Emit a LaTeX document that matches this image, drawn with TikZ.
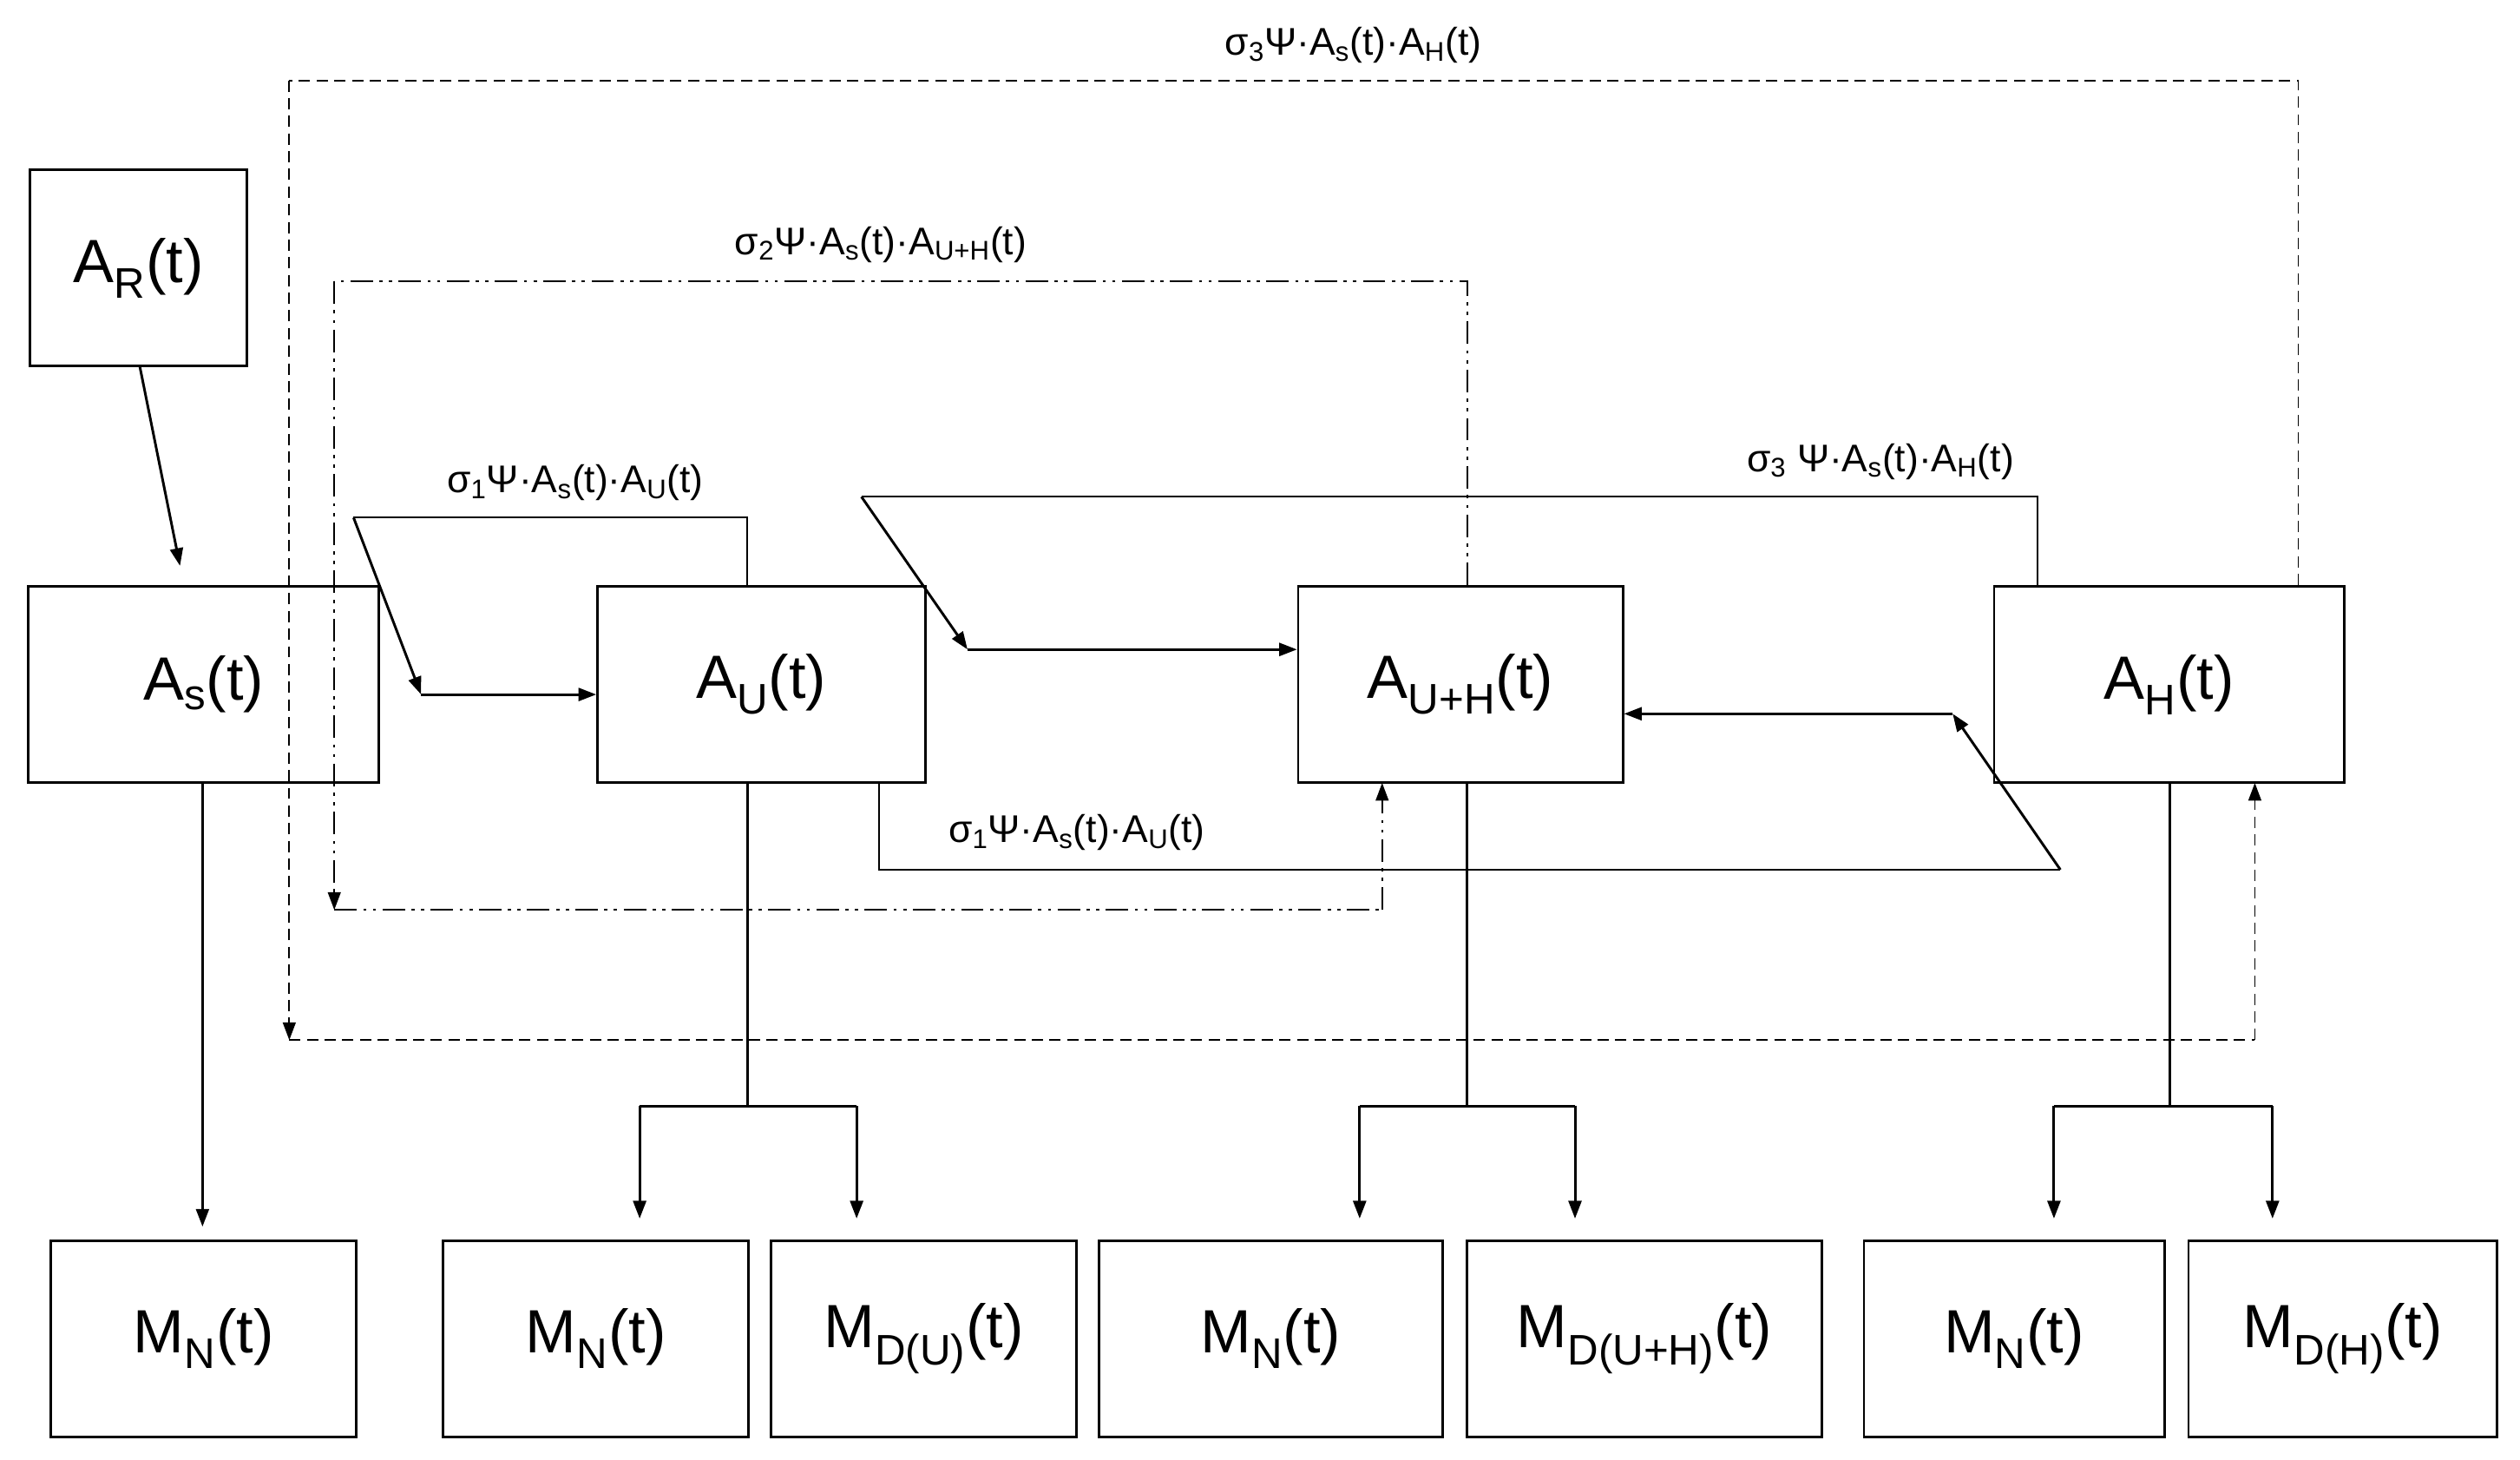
\documentclass[tikz,border=0pt]{standalone}
\usepackage{fontspec}
\setmainfont{Liberation Sans}
\usetikzlibrary{arrows.meta}
\begin{document}
\begin{tikzpicture}[x=1pt,y=-1pt,
  box/.style={draw,line width=1.5pt,anchor=north west,inner sep=0pt,font=\fontsize{38}{44}\selectfont},
  ln/.style={line width=1.6pt},
  ar/.style={ln,-{Triangle[length=11pt,width=8pt]}},
  lab/.style={font=\fontsize{24}{28}\selectfont},
  dd/.style={dash pattern=on 14pt off 4pt on 2pt off 4pt on 2pt off 4pt},
  ds/.style={dash pattern=on 7pt off 4pt}]
\useasboundingbox (0,0) rectangle (1568,908);
\newcommand\bx[5]{\node[box,minimum width=#3-#1,minimum height=#4-#2] (#5) at (#1,#2) {};}
\bx{18}{105}{153}{227}{AR} \node[box,anchor=center,draw=none] at (AR.center) {A\textsubscript{R}(t)};
\bx{17}{364}{235}{486}{As} \node[box,anchor=center,draw=none] at (As.center) {A\textsubscript{s}(t)};
\bx{371}{364}{575}{486}{AU} \node[box,anchor=center,draw=none] at (AU.center) {A\textsubscript{U}(t)};
\bx{807}{364}{1009}{486}{AUH} \node[box,anchor=center,draw=none] at (AUH.center) {A\textsubscript{U+H}(t)};
\bx{1240}{364}{1458}{486}{AH} \node[box,anchor=center,draw=none] at (AH.center) {A\textsubscript{H}(t)};
\bx{31}{771}{221}{893}{M1} \node[box,anchor=center,draw=none] at (M1.center) {M\textsubscript{N}(t)};
\bx{275}{771}{465}{893}{M2} \node[box,anchor=center,draw=none] at (M2.center) {M\textsubscript{N}(t)};
\bx{479}{771}{669}{893}{M3} \node[box,anchor=center,draw=none] at (M3.center) {M\textsubscript{D(U)}(t)};
\bx{683}{771}{897}{893}{M4} \node[box,anchor=center,draw=none] at (M4.center) {M\textsubscript{N}(t)};
\bx{912}{771}{1133}{893}{M5} \node[box,anchor=center,draw=none] at (M5.center) {M\textsubscript{D(U+H)}(t)};
\bx{1159}{771}{1346}{893}{M6} \node[box,anchor=center,draw=none] at (M6.center) {M\textsubscript{N}(t)};
\bx{1361}{771}{1553}{893}{M7} \node[box,anchor=center,draw=none] at (M7.center) {M\textsubscript{D(H)}(t)};
% AR -> As
\coordinate (arE) at (112,352);
\draw[ar] (87,228) -- (arE);
\draw[ar] (126,486) -- (126,763);
% splits
\draw[ln] (465,486) -- (465,688) (398,688) -- (533,688);
\draw[ar] (398,688) -- (398,758); \draw[ar] (533,688) -- (533,758);
\draw[ln] (913,486) -- (913,688) (846,688) -- (980,688);
\draw[ar] (846,688) -- (846,758); \draw[ar] (980,688) -- (980,758);
\draw[ln] (1350,486) -- (1350,688) (1278,688) -- (1414,688);
\draw[ar] (1278,688) -- (1278,758); \draw[ar] (1414,688) -- (1414,758);
% sigma1 top
\coordinate (s1a) at (262,432);
\draw[line width=1pt] (465,364) -- (465,322) -- (220,322);
\draw[ar] (220,322) -- (s1a);
\draw[ar] (s1a) -- (AU.west |- s1a);
\node[lab] at (358,300) {σ\textsubscript{1}Ψ·A\textsubscript{s}(t)·A\textsubscript{U}(t)};
% sigma3 solid
\coordinate (s3a) at (602,404);
\draw[line width=1pt] (1268,364) -- (1268,309) -- (536,309);
\draw[ar] (536,309) -- (s3a);
\draw[ar] (s3a) -- (AUH.west |- s3a);
\node[lab] at (1170,287) {σ\textsubscript{3} Ψ·A\textsubscript{s}(t)·A\textsubscript{H}(t)};
% sigma1 bottom
\coordinate (s1b) at (1215,444);
\draw[line width=1pt] (547,486) -- (547,541) -- (1282,541);
\draw[ar] (1282,541) -- (s1b);
\draw[ar] (s1b) -- (AUH.east |- s1b);
\node[lab] at (670,518) {σ\textsubscript{1}Ψ·A\textsubscript{s}(t)·A\textsubscript{U}(t)};
% sigma2 dash-dot-dot
\draw[line width=1pt,dd] (913,364) -- (913,175) -- (208,175);
\draw[ar,line width=1pt,dd] (208,175) -- (208,566);
\draw[line width=1pt,dd] (208,566) -- (860,566);
\draw[ar,line width=1pt,dd] (860,566) -- (860,487);
\node[lab] at (548,152) {σ\textsubscript{2}Ψ·A\textsubscript{s}(t)·A\textsubscript{U+H}(t)};
% sigma3 dashed
\draw[line width=1pt,ds] (1430,364) -- (1430,50) -- (180,50);
\draw[ar,line width=1pt,ds] (180,50) -- (180,647);
\draw[line width=1pt,ds] (180,647) -- (1403,647);
\draw[ar,line width=1pt,ds] (1403,647) -- (1403,487);
\node[lab] at (842,28) {σ\textsubscript{3}Ψ·A\textsubscript{s}(t)·A\textsubscript{H}(t)};
\end{tikzpicture}
\end{document}
